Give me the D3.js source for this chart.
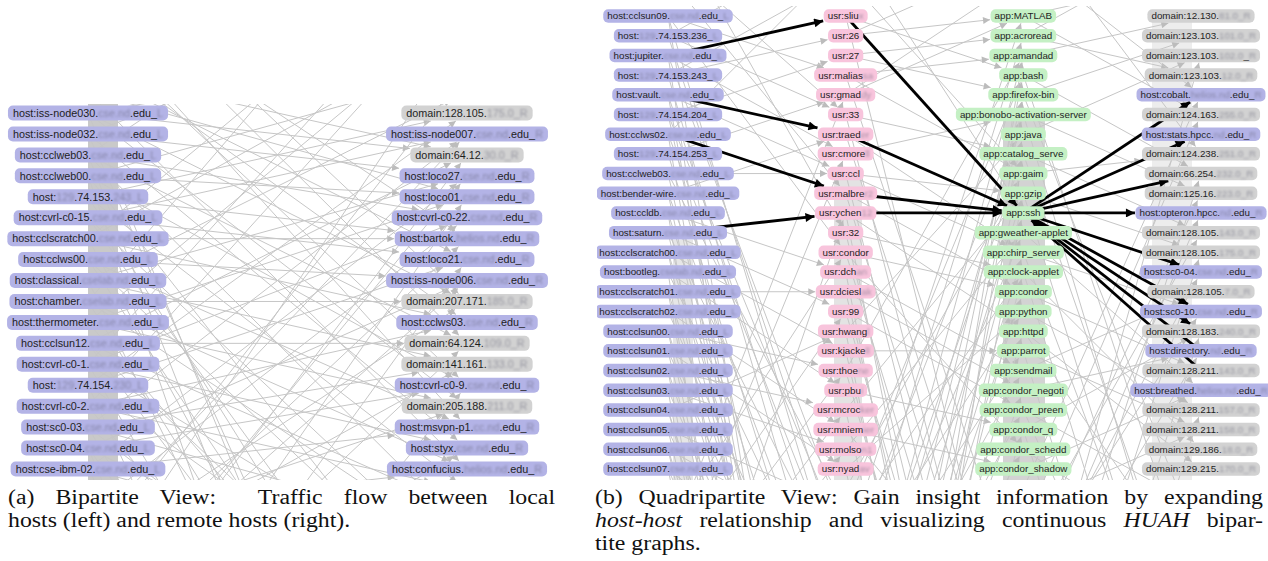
<!DOCTYPE html>
<html>
<head>
<meta charset="utf-8">
<script src="https://cdn.jsdelivr.net/npm/d3@7"></script>
<style>
body { margin: 0; background: #fff; }
svg { display: block; }
</style>
</head>
<body>
<div id="chart"></div>
<script>
// node labels, {..} marks the anonymised (blurred) part
var localHostsA = ["host:iss-node030.{cse.nd}.edu_{L}", "host:iss-node032.{cse.nd}.edu_{L}", "host:cclweb03.{cse.nd}.edu_{L}",
	"host:cclweb00.{cse.nd}.edu_{L}", "host:{129}.74.153.{243_L}", "host:cvrl-c0-15.{cse.nd}.edu_{L}",
	"host:cclscratch00.{cse.nd}.edu_{L}", "host:cclws00.{cse.nd}.edu_{L}", "host:classical.{cselab.nd}.edu_{L}",
	"host:chamber.{cselab.nd}.edu_{L}", "host:thermometer.{cse.nd}.edu_{L}", "host:cclsun12.{cse.nd}.edu_{L}",
	"host:cvrl-c0-1.{cse.nd}.edu_{L}", "host:{129}.74.154.{230_L}", "host:cvrl-c0-2.{cse.nd}.edu_{L}",
	"host:sc0-03.{cse.nd}.edu_{L}", "host:sc0-04.{cse.nd}.edu_{L}", "host:cse-ibm-02.{cse.nd}.edu_{L}"];

var remoteHostsA = ["domain:128.105.{175.0_R}", "host:iss-node007.{cse.nd}.edu_{R}", "domain:64.12.{30.0_R}",
	"host:loco27.{cse.nd}.edu_{R}", "host:loco01.{cse.nd}.edu_{R}", "host:cvrl-c0-22.{cse.nd}.edu_{R}",
	"host:bartok.{helios.nd}.edu_{R}", "host:loco21.{cse.nd}.edu_{R}", "host:iss-node006.{cse.nd}.edu_{R}",
	"domain:207.171.{185.0_R}", "host:cclws03.{cse.nd}.edu_{R}", "domain:64.124.{109.0_R}",
	"domain:141.161.{133.0_R}", "host:cvrl-c0-9.{cse.nd}.edu_{R}", "domain:205.188.{211.0_R}",
	"host:msvpn-p1.{cc.nd}.edu_{R}", "host:styx.{cse.nd}.edu_{R}", "host:confucius.{helios.nd}.edu_{R}"];

var hostsB = ["host:cclsun09.{cse.nd}.edu_{L}", "host:{129}.74.153.236_{L}", "host:jupiter.{cse.nd}.edu_{L}",
	"host:{129}.74.153.243_{L}", "host:vault.{cse.nd}.edu_{L}", "host:{129}.74.154.204_{L}",
	"host:cclws02.{cse.nd}.edu_{L}", "host:{129}.74.154.253_{L}", "host:cclweb03.{cse.nd}.edu_{L}",
	"host:bender-wire.{cse.nd}.edu_{L}", "host:ccldb.{cse.nd}.edu_{L}", "host:saturn.{cse.nd}.edu_{L}",
	"host:cclscratch00.{cse.nd}.edu_{L}", "host:bootleg.{cselab.nd}.edu_{L}", "host:cclscratch01.{cse.nd}.edu_{L}",
	"host:cclscratch02.{cse.nd}.edu_{L}", "host:cclsun00.{cse.nd}.edu_{L}", "host:cclsun01.{cse.nd}.edu_{L}",
	"host:cclsun02.{cse.nd}.edu_{L}", "host:cclsun03.{cse.nd}.edu_{L}", "host:cclsun04.{cse.nd}.edu_{L}",
	"host:cclsun05.{cse.nd}.edu_{L}", "host:cclsun06.{cse.nd}.edu_{L}", "host:cclsun07.{cse.nd}.edu_{L}"];

var usersB = ["usr:sliu{x}", "usr:26", "usr:27", "usr:malias{sa}", "usr:gmad{dy}", "usr:33", "usr:traed{er}",
	"usr:cmore{ll}", "usr:ccl", "usr:malbre{r2}", "usr:ychen{12}", "usr:32", "usr:condor", "usr:dch{an}",
	"usr:dciesl{ak}", "usr:99", "usr:hwang{l}", "usr:kjacke{ll}", "usr:thoe{ne}", "usr:pbu{i}", "usr:mcroc{ker}",
	"usr:mniem{ier}", "usr:molso{n1}", "usr:nyad{av}"];

var appsB = ["app:MATLAB", "app:acroread", "app:amandad", "app:bash", "app:firefox-bin", "app:bonobo-activation-server",
	"app:java", "app:catalog_serve", "app:gaim", "app:gzip", "app:ssh", "app:gweather-applet", "app:chirp_server",
	"app:clock-applet", "app:condor", "app:python", "app:httpd", "app:parrot", "app:sendmail", "app:condor_negoti",
	"app:condor_preen", "app:condor_q", "app:condor_schedd", "app:condor_shadow"];

var remoteB = ["domain:12.130.{81.0_R}", "domain:123.103.{101.0_R}", "domain:123.103.{102.0}_{R}", "domain:123.103.{12.0_R}",
	"host:cobalt.{helios.nd}.edu_{R}", "domain:124.163.{255.0_R}", "host:stats.hpcc.{nd}.edu_{R}",
	"domain:124.238.{251.0_R}", "domain:66.254.{232.0_R}", "domain:125.16.{223.0_R}", "host:opteron.hpcc.{nd}.edu_{R}",
	"domain:128.105.{143.0_R}", "domain:128.105.{175.0_R}", "host:sc0-04.{cse.nd}.edu_{R}", "domain:128.105.{7.0_R}",
	"host:sc0-10.{cse.nd}.edu_{R}", "domain:128.183.{240.0_R}", "host:directory.{nd}.edu_{R}",
	"domain:128.211.{143.0_R}", "host:breathed.{helios.nd}.edu_{R}", "domain:128.211.{157.0_R}",
	"domain:128.211.{158.0_R}", "domain:129.186.{18.0_R}", "domain:129.215.{170.0_R}"];

// edges as [source row, target row]; rows outside the list are nodes off the cropped view
var edgesA = [[0,2],[0,9],[0,14],[0,-3],[1,3],[1,16],[1,-6],[2,5],[2,11],[2,20],[3,4],[3,13],[3,-2],[3,26],
	[4,6],[4,0],[4,18],[5,7],[5,1],[5,22],[5,30],[6,6],[6,10],[6,-4],[7,8],[7,15],[7,24],[7,34],[8,3],[8,12],
	[8,-1],[9,9],[9,17],[9,21],[9,38],[10,4],[10,14],[10,-5],[11,11],[11,19],[11,2],[11,28],[12,5],[12,16],
	[12,23],[12,42],[13,7],[13,0],[13,26],[14,10],[14,18],[14,-6],[14,36],[15,12],[15,1],[15,20],[15,46],
	[16,13],[16,8],[16,25],[16,40],[17,15],[17,3],[17,22],[17,50],
	[0,44],[2,48],[4,33],[6,39],[8,45],[10,31],[13,52],[15,29],[1,41],[3,55],[11,35],[16,58],
	[2,-10],[6,-9],[9,-12],[12,-8],
	[-1,4],[-2,7],[-3,10],[-4,13],[-1,17],[-2,2],[-6,6],[-8,9],[-5,15],[-7,11],
	[19,5],[20,1],[21,9],[22,12],[23,6],[19,17],[20,14],[24,8],[25,3],[21,-2],[28,11],[30,4],[27,16],
	[26,2],[32,7],[35,13],[23,-4]];

var hostUsrGray = [[0,3],[0,12],[0,30],[1,5],[1,-4],[1,28],[2,7],[2,26],[3,1],[3,-2],[3,34],[4,8],[4,31],
	[5,2],[5,27],[6,-3],[6,29],[7,4],[7,36],[8,8],[8,25],[9,6],[9,33],[10,13],[10,38],[11,15],[11,29],
	[12,17],[12,40],[13,19],[13,32],[14,14],[14,42],[15,21],[15,35],[16,18],[16,44],[17,23],[17,37],
	[18,20],[18,46],[19,22],[19,39],[20,16],[20,48],[21,25],[21,41],[22,27],[22,50],[23,30],[23,43],
	[0,55],[2,60],[4,52],[6,58],[8,47],[10,64],[12,54],[14,62],[16,57],[18,66],[20,53],[22,61],
	[5,45],[9,50],[13,70],[17,56],[19,68],[21,59],[23,65],[11,48],
	[-3,5],[-5,11],[-2,9],[26,12],[28,15],[30,18],[32,20],[27,4],[29,7],[34,22],[36,10]];

var usrAppGray = [[0,3],[1,0],[1,-3],[2,4],[2,1],[3,2],[3,8],[4,0],[4,-2],[5,7],[6,12],[7,5],[8,12],[8,9],
	[9,14],[10,16],[11,13],[12,14],[12,22],[13,18],[14,19],[15,20],[16,6],[17,17],[18,2],[19,21],[20,9],
	[21,23],[22,11],[23,15],
	[25,3],[27,0],[28,5],[30,1],[33,7],[35,2],[38,9],[40,4],[42,12],[45,6],[26,13],[29,15],[31,17],[34,18],
	[37,20],[39,22],[41,14],[44,19],[47,16],[50,21],
	[24,8],[32,11],[36,5],[43,10],[46,3],[48,13],[52,7],[55,2],[58,9],[60,4],
	[3,30],[6,34],[9,38],[12,42],[15,46],[18,50],[21,32],[0,36],[-4,10],[-2,8],
	[5,40],[8,44],[11,48],[14,52],[17,56],[20,60],[23,64],[10,55],[13,58],[16,62]];

var appDomGray = [[0,5],[0,-2],[1,3],[2,0],[3,8],[4,1],[5,9],[6,2],[7,11],[8,7],[9,12],[11,19],[12,15],
	[13,22],[14,18],[15,20],[16,23],[17,21],[18,14],[19,17],[20,25],[21,16],[22,28],[23,19],
	[26,5],[28,9],[30,13],[32,17],[25,21],[34,2],[27,11],[29,15],
	[36,8],[40,12],[44,16],[48,20],[24,4],[31,10],
	[3,30],[7,33],[12,36],[16,29],[20,40],[-3,4],[-5,7],[1,-4],[4,27],
	[5,35],[9,38],[13,42],[17,46],[21,50]];

// highlighted flow through app:ssh
var hostUsrBlack = [[2,0],[4,6],[6,9],[11,10]];
var usrAppBlack = [[0,10],[6,10],[9,10],[10,10]];
var appDomBlack = [[10,4],[10,6],[10,8],[10,10],[10,13],[10,15],[10,16]];
var domAppBlack = [[17,10],[18,10]];

var captionA = ["(a) Bipartite View:  Traffic flow between local", "hosts (left) and remote hosts (right)."];
var captionB1 = "(b) Quadripartite View: Gain insight information by expanding";
var captionB2 = [["host-host", true], [" relationship and visualizing continuous ", false], ["HUAH", true], [" bipar-", false]];
var captionB3 = "tite graphs.";

// colours
var hostFill = "#b3b3e6", domFill = "#d2d2d2", usrFill = "#f8c4dc", appFill = "#c4f0c4";
var edgeGray = "#c6c6c6";

var W = 1268, H = 561;
var svg = d3.select("#chart").append("svg").attr("width", W).attr("height", H);
var defs = svg.append("defs");

defs.append("filter").attr("id", "blur")
		.attr("x", "-30%").attr("y", "-60%").attr("width", "160%").attr("height", "220%")
	.append("feGaussianBlur").attr("stdDeviation", 1.2);

function marker(id, color, w, h) {
	defs.append("marker")
		.attr("id", id)
		.attr("viewBox", "0 0 10 10")
		.attr("refX", 10).attr("refY", 5)
		.attr("markerWidth", w).attr("markerHeight", h)
		.attr("markerUnits", "userSpaceOnUse")
		.attr("orient", "auto")
	.append("path")
		.attr("d", "M0,0 L10,5 L0,10 z")
		.attr("fill", color);
}
marker("arrGray", "#bcbcbc", 10, 7);
marker("arrBlack", "#000", 12, 9);

defs.append("clipPath").attr("id", "clipA").append("rect")
	.attr("x", 0).attr("y", 104).attr("width", 562).attr("height", 376);
defs.append("clipPath").attr("id", "clipB").append("rect")
	.attr("x", 597).attr("y", 6).attr("width", 671).attr("height", 474);

// scales
var rowA = d3.scaleLinear().domain([0, 17]).range([113, 469]);
var colA = d3.scalePoint().domain(["local", "remote"]).range([88, 467]);
var rowB = d3.scaleLinear().domain([0, 23]).range([16, 469]);
var colB = d3.scalePoint().domain(["host", "usr", "app", "domain"]).range([668, 1201]);

// draw one rounded label, centred at 0,0, returns box size
function drawLabel(g, label, fill, fs, h, pad) {
	var parts = label.split(/(\{[^}]*\})/).filter(function(s){ return s.length; });
	var rect = g.append("rect");
	var x = 0;
	var texts = [];
	parts.forEach(function(p){
		var blur = p[0] == "{";
		var s = blur ? p.slice(1, -1) : p;
		var t = g.append("text")
			.attr("x", x).attr("y", 0).attr("dy", "0.35em")
			.style("font-family", "'Liberation Sans', Arial, sans-serif")
			.style("font-size", fs + "px")
			.text(s);
		if (blur) t.attr("fill", "#5c5c70").attr("opacity", 0.5).attr("filter", "url(#blur)");
		else t.attr("fill", "#1e1e1e");
		x += t.node().getComputedTextLength();
		texts.push(t);
	});
	texts.forEach(function(t){ t.attr("transform", "translate(" + (-x / 2) + ",0)"); });
	var w = x + 2 * pad;
	rect.attr("x", -w / 2).attr("y", -h / 2).attr("width", w).attr("height", h)
		.attr("rx", 5).attr("ry", 5).attr("fill", fill);
	return {w: w, h: h};
}

function fillFor(label, def) {
	if (label.indexOf("host:") == 0) return hostFill;
	if (label.indexOf("domain:") == 0) return domFill;
	return def;
}

// place a column of nodes, returns sizes
function drawColumn(layer, labels, cx, row, def, fs, h, pad) {
	return labels.map(function(lab, i){
		var g = layer.append("g").attr("transform", "translate(" + cx + "," + row(i) + ")");
		return drawLabel(g, lab, fillFor(lab, def), fs, h, pad);
	});
}

// edge from centre of source to boundary of target box
function drawEdge(layer, sx, sy, tx, ty, box, black) {
	var dx = tx - sx, dy = ty - sy;
	var hw = box.w / 2 + 0.5, hh = box.h / 2 + 0.5;
	var t = Math.min(dx ? hw / Math.abs(dx) : 1e9, dy ? hh / Math.abs(dy) : 1e9);
	var ex = tx - dx * t, ey = ty - dy * t;
	layer.append("line")
		.attr("x1", sx).attr("y1", sy).attr("x2", ex).attr("y2", ey)
		.attr("stroke", black ? "#000" : edgeGray)
		.attr("stroke-width", black ? 2.8 : 1)
		.attr("marker-end", black ? "url(#arrBlack)" : "url(#arrGray)");
}

/* ---------------- panel (a) ---------------- */
var panelA = svg.append("g").attr("clip-path", "url(#clipA)");
var bandA = panelA.append("g");
var edgeLayerA = panelA.append("g");
var nodeLayerA = panelA.append("g");

bandA.append("rect").attr("x", 88).attr("y", 104).attr("width", 30).attr("height", 376).attr("fill", "#c9c9c9");

var sizeLeftA = drawColumn(nodeLayerA, localHostsA, colA("local"), rowA, hostFill, 10.8, 15, 5);
var sizeRightA = drawColumn(nodeLayerA, remoteHostsA, colA("remote"), rowA, hostFill, 10.8, 15, 5);

edgesA.forEach(function(e){
	var box = sizeRightA[e[1]] || {w: 140, h: 15};
	drawEdge(edgeLayerA, colA("local"), rowA(e[0]), colA("remote"), rowA(e[1]), box, false);
});

/* ---------------- panel (b) ---------------- */
var panelB = svg.append("g").attr("clip-path", "url(#clipB)");
var bandB = panelB.append("g");
var edgeLayerB = panelB.append("g");
var blackLayerB = panelB.append("g");
var nodeLayerB = panelB.append("g");

bandB.append("rect").attr("x", 673).attr("y", 240).attr("width", 20).attr("height", 240).attr("fill", "#d6d6d6").attr("opacity", 0.6);
bandB.append("rect").attr("x", 834).attr("y", 170).attr("width", 28).attr("height", 310).attr("fill", "#d0d0d0").attr("opacity", 0.6);
bandB.append("rect").attr("x", 1003).attr("y", 120).attr("width", 42).attr("height", 360).attr("fill", "#c4c4c4").attr("opacity", 0.75);
bandB.append("rect").attr("x", 1152).attr("y", 20).attr("width", 40).attr("height", 460).attr("fill", "#d6d6d6").attr("opacity", 0.45);

var sizeHostB = drawColumn(nodeLayerB, hostsB, colB("host"), rowB, hostFill, 9.8, 13.5, 4);
var sizeUsrB = drawColumn(nodeLayerB, usersB, colB("usr"), rowB, usrFill, 9.8, 13.5, 4);
var sizeAppB = drawColumn(nodeLayerB, appsB, colB("app"), rowB, appFill, 9.8, 13.5, 4);
var sizeDomB = drawColumn(nodeLayerB, remoteB, colB("domain"), rowB, domFill, 9.8, 13.5, 4);

function layerEdges(layer, list, from, to, sizes, black) {
	list.forEach(function(e){
		var box = sizes[e[1]] || {w: 110, h: 13.5};
		drawEdge(layer, colB(from), rowB(e[0]), colB(to), rowB(e[1]), box, black);
	});
}
layerEdges(edgeLayerB, hostUsrGray, "host", "usr", sizeUsrB, false);
layerEdges(edgeLayerB, usrAppGray, "usr", "app", sizeAppB, false);
layerEdges(edgeLayerB, appDomGray, "app", "domain", sizeDomB, false);

layerEdges(blackLayerB, hostUsrBlack, "host", "usr", sizeUsrB, true);
layerEdges(blackLayerB, usrAppBlack, "usr", "app", sizeAppB, true);
layerEdges(blackLayerB, appDomBlack, "app", "domain", sizeDomB, true);
layerEdges(blackLayerB, domAppBlack, "domain", "app", sizeAppB, true);

/* ---------------- captions ---------------- */
var capFont = "'Liberation Serif', 'Times New Roman', serif";
var capSize = 20;
var capStretch = 1.19;   // Computer Modern is wider than Times

// justify a line by stretching the word gaps
function captionLine(x, y, parts, width) {
	var t = svg.append("text")
		.attr("transform", "translate(" + x + "," + y + ") scale(" + capStretch + ",1)")
		.style("font-family", capFont)
		.style("font-size", capSize + "px")
		.attr("fill", "#111")
		.attr("xml:space", "preserve");
	parts.forEach(function(p){
		t.append("tspan").style("font-style", p[1] ? "italic" : "normal").text(p[0]);
	});
	if (width) {
		var natural = t.node().getComputedTextLength();
		var gaps = parts.map(function(p){ return (p[0].match(/ /g) || []).length; }).reduce(function(a, b){ return a + b; }, 0);
		if (gaps) t.style("word-spacing", ((width / capStretch - natural) / gaps) + "px");
	}
	return t;
}

captionLine(8, 504, [[captionA[0], false]], 547);
captionLine(8, 527, [[captionA[1], false]]);
captionLine(595, 504, [[captionB1, false]], 668);
captionLine(595, 527, captionB2, 668);
captionLine(595, 550, [[captionB3, false]]);
</script>
</body>
</html>
